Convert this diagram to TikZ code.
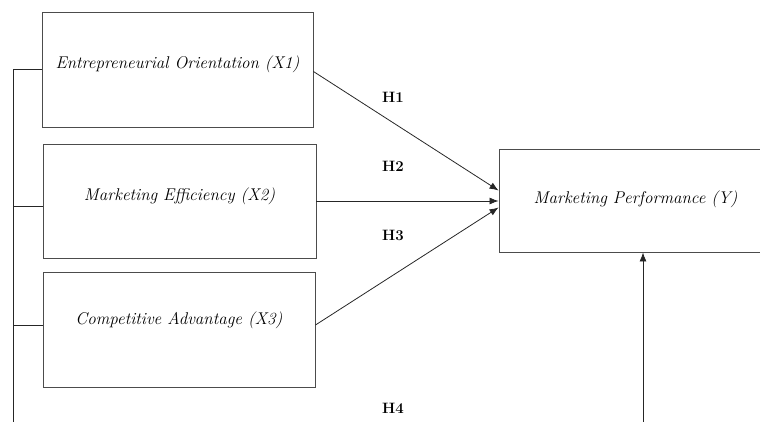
\documentclass[tikz,border=0pt]{standalone}
\usepackage{tikz}
\usetikzlibrary{arrows.meta}
\tikzstyle{box} = [rectangle, draw=black!70, line width=0.9pt, font=\fontsize{17}{20}\selectfont\itshape, text height=0.8em]
\tikzstyle{arrow} = [draw=black!85, line width=0.8pt, ->, >={Latex[length=9pt,width=7pt]}]
\tikzstyle{link} = [draw=black!85, line width=0.8pt]
\tikzstyle{hyp} = [font=\fontsize{15}{17}\selectfont\bfseries]

\begin{document}
\begin{tikzpicture}[x=1pt,y=-1pt]
  \useasboundingbox (0,0) rectangle (760,421);
  \clip (0,0) rectangle (760,421);
  % variables
  \node[box, minimum width=271pt, minimum height=115pt, text depth=10pt] (eo) at (177.5,69.5) {Entrepreneurial Orientation (X1)};
  \node[box, minimum width=273pt, minimum height=114pt, text depth=9pt] (me) at (179.5,201) {Marketing Efficiency (X2)};
  \node[box, minimum width=272pt, minimum height=115pt, text depth=19pt] (ca) at (179,329.5) {Competitive Advantage (X3)};
  \node[box, minimum width=273pt, minimum height=103pt, text depth=2pt] (mp) at (635.5,200.5) {Marketing Performance (Y)};
  % hypotheses
  \node[hyp] (h1) at (393,97) {H1};
  \node[hyp] (h2) at (393,166) {H2};
  \node[hyp] (h3) at (393,235) {H3};
  \node[hyp] (h4) at (393,408) {H4};
  % bus on the left
  \coordinate (busend) at (13,425);
  \coordinate (mejoin) at ([yshift=-5pt]me.west);
  \coordinate (cajoin) at ([yshift=4.5pt]ca.west);
  \draw[link] (eo.west) -| (busend);
  \draw[link] (mejoin) -- (mejoin -| busend);
  \draw[link] (cajoin) -- (cajoin -| busend);
  % paths
  \draw[arrow] ([yshift=-2pt]eo.east) -- ([yshift=10pt]mp.west);
  \draw[arrow] (me.east) -- (me.east -| mp.west);
  \draw[arrow] ([yshift=4.5pt]ca.east) -- ([yshift=-7pt]mp.west);
  \coordinate (h4foot) at (643,425);
  \draw[arrow] (h4foot) -- (h4foot |- mp.south);
\end{tikzpicture}
\end{document}
